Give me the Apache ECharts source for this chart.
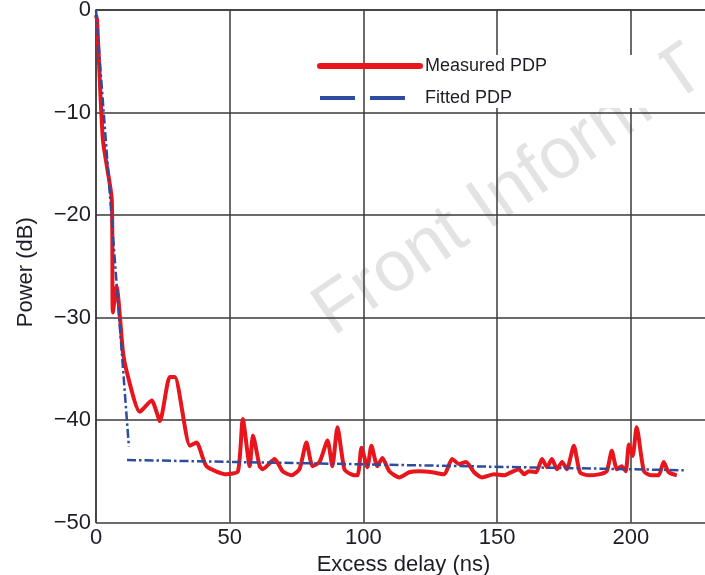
<!DOCTYPE html>
<html>
<head>
<meta charset="utf-8">
<script src="https://cdn.jsdelivr.net/npm/echarts@6/dist/echarts.min.js"></script>
<style>
  html, body { margin: 0; padding: 0; background: #fff; }
  #chart { width: 705px; height: 575px; }
</style>
</head>
<body>
<div id="chart"></div>
<script>
// measured power delay profile
var measuredDelay = [0, 0.4, 2.6, 5.9, 6.3, 7.7, 10.1, 11.5, 16.4, 20.8,
  23.9, 27.6, 29.5, 35.1, 37.6, 41.3, 48.8, 53.1, 54.9, 57.5,
  58.7, 61.2, 62.3, 66.8, 69.8, 73.1, 76.1, 78.7, 81.0, 83.6,
  86.6, 88.4, 90.3, 92.9, 95.5, 97.8, 99.3, 101.5, 103.0, 105.2,
  107.1, 109.7, 113.4, 117.2, 120.9, 125.7, 130.2, 133.2, 135.8, 138.4,
  141.4, 144.4, 148.9, 152.6, 155.2, 158.2, 160.1, 161.9, 164.6, 166.8,
  168.7, 170.5, 172.4, 174.3, 176.1, 178.7, 181.0, 184.3, 188.1, 191.0,
  192.9, 194.8, 196.6, 198.1, 199.3, 200.7, 202.2, 204.9, 207.5, 210.4,
  212.3, 214.2, 217.2];
var measuredPower = [-0.5, -1.0, -12.7, -18.5, -29.5, -27.0, -33.4, -35.3, -39.2, -38.1,
  -40.1, -35.8, -35.8, -42.5, -42.2, -44.5, -45.3, -45.0, -39.9, -44.5,
  -41.5, -44.5, -44.8, -43.8, -45.0, -45.4, -44.8, -42.2, -44.5, -44.1,
  -42.0, -44.5, -40.7, -44.8, -45.3, -45.4, -42.7, -44.6, -42.5, -44.5,
  -43.7, -45.0, -45.6, -45.1, -45.0, -45.1, -45.3, -43.8, -44.3, -44.1,
  -45.1, -45.6, -45.3, -45.4, -45.1, -44.8, -45.3, -45.0, -45.1, -43.8,
  -44.6, -43.8, -44.8, -44.1, -44.8, -42.5, -45.1, -45.4, -45.3, -45.0,
  -43.0, -44.8, -44.5, -45.0, -42.4, -43.5, -40.7, -45.0, -45.4, -45.4,
  -44.1, -45.1, -45.4];

// fitted two-segment model (null breaks the line)
var fittedDelay = [0, 12.3, 12.3, 11.6, 219.8];
var fittedPower = [0, -42.6, null, -43.9, -44.9];

var xTicks = [0, 50, 100, 150, 200];
var yTicks = [0, -10, -20, -30, -40, -50];

function pairs(xs, ys) {
  return xs.map(function (x, i) {
    return [x, ys[i] === null ? '-' : ys[i]];
  });
}

var textColor = '#1d1d28';
var gridColor = '#3a3a3a';
var font = 'Liberation Sans, Arial, sans-serif';

var myChart = echarts.init(document.getElementById('chart'));
myChart.setOption({
  animation: false,
  backgroundColor: '#fff',
  textStyle: { fontFamily: font },
  grid: {
    left: 96,
    top: 10,
    width: 615,
    height: 512.5,
    containLabel: false,
    outerBoundsMode: 'none',
  },
  graphic: [
    {
      type: 'text',
      x: 342,
      y: 350,
      rotation: 0.6,
      z: -10,
      silent: true,
      style: {
        text: 'Front Inform T',
        font: '72px ' + font,
        fill: '#e3e3e3',
        textAlign: 'left',
        textVerticalAlign: 'bottom',
      },
    },
    {
      type: 'rect',
      z: 3,
      silent: true,
      shape: { x: 419, y: 55, width: 240, height: 53 },
      style: { fill: '#fff' },
    },
  ],
  legend: {
    orient: 'vertical',
    left: 312,
    top: 52,
    itemWidth: 100,
    itemHeight: 14,
    itemGap: 14,
    z: 5,
    textStyle: { fontSize: 18, color: textColor, fontFamily: font },
    data: [
      {
        name: 'Measured PDP',
        itemStyle: { opacity: 0 },
        lineStyle: { width: 6, cap: 'round' },
      },
      {
        name: 'Fitted PDP',
        itemStyle: { opacity: 0 },
        lineStyle: { width: 4, type: [35, 15] },
      },
    ],
  },
  xAxis: {
    type: 'value',
    min: 0,
    max: 230,
    interval: 50,
    name: 'Excess delay (ns)',
    nameLocation: 'middle',
    nameGap: 31,
    nameTextStyle: { fontSize: 22, color: textColor },
    axisLine: { show: true, lineStyle: { color: gridColor, width: 1.5 } },
    axisTick: { show: false },
    axisLabel: {
      fontSize: 22,
      color: textColor,
      margin: 4,
      showMaxLabel: false,
      formatter: function (v) { return xTicks.indexOf(v) >= 0 ? String(v) : ''; },
    },
    splitLine: { show: true, lineStyle: { color: gridColor, width: 1.5 } },
  },
  yAxis: {
    type: 'value',
    min: -50,
    max: 0,
    interval: 10,
    name: 'Power (dB)',
    nameLocation: 'middle',
    nameGap: 59,
    nameTextStyle: { fontSize: 22, color: textColor, padding: [0, 12, 0, 0] },
    axisLine: { show: true, lineStyle: { color: gridColor, width: 1.5 } },
    axisTick: { show: false },
    axisLabel: {
      fontSize: 22,
      color: textColor,
      margin: 5,
      formatter: function (v) {
        return yTicks.indexOf(v) >= 0 ? String(v).replace('-', '\u2212') : '';
      },
    },
    splitLine: { show: true, lineStyle: { color: gridColor, width: 1.5 } },
  },
  series: [
    {
      name: 'Measured PDP',
      type: 'line',
      data: pairs(measuredDelay, measuredPower),
      symbol: 'none',
      smooth: 0.2,
      z: 3,
      lineStyle: { color: '#e8161c', width: 4 },
      itemStyle: { color: '#e8161c' },
    },
    {
      name: 'Fitted PDP',
      type: 'line',
      data: pairs(fittedDelay, fittedPower),
      symbol: 'none',
      connectNulls: false,
      z: 4,
      lineStyle: { color: '#2c4c9e', width: 2.5, type: [9, 3, 2.5, 3] },
      itemStyle: { color: '#2c4c9e' },
    },
  ],
});
</script>
</body>
</html>
